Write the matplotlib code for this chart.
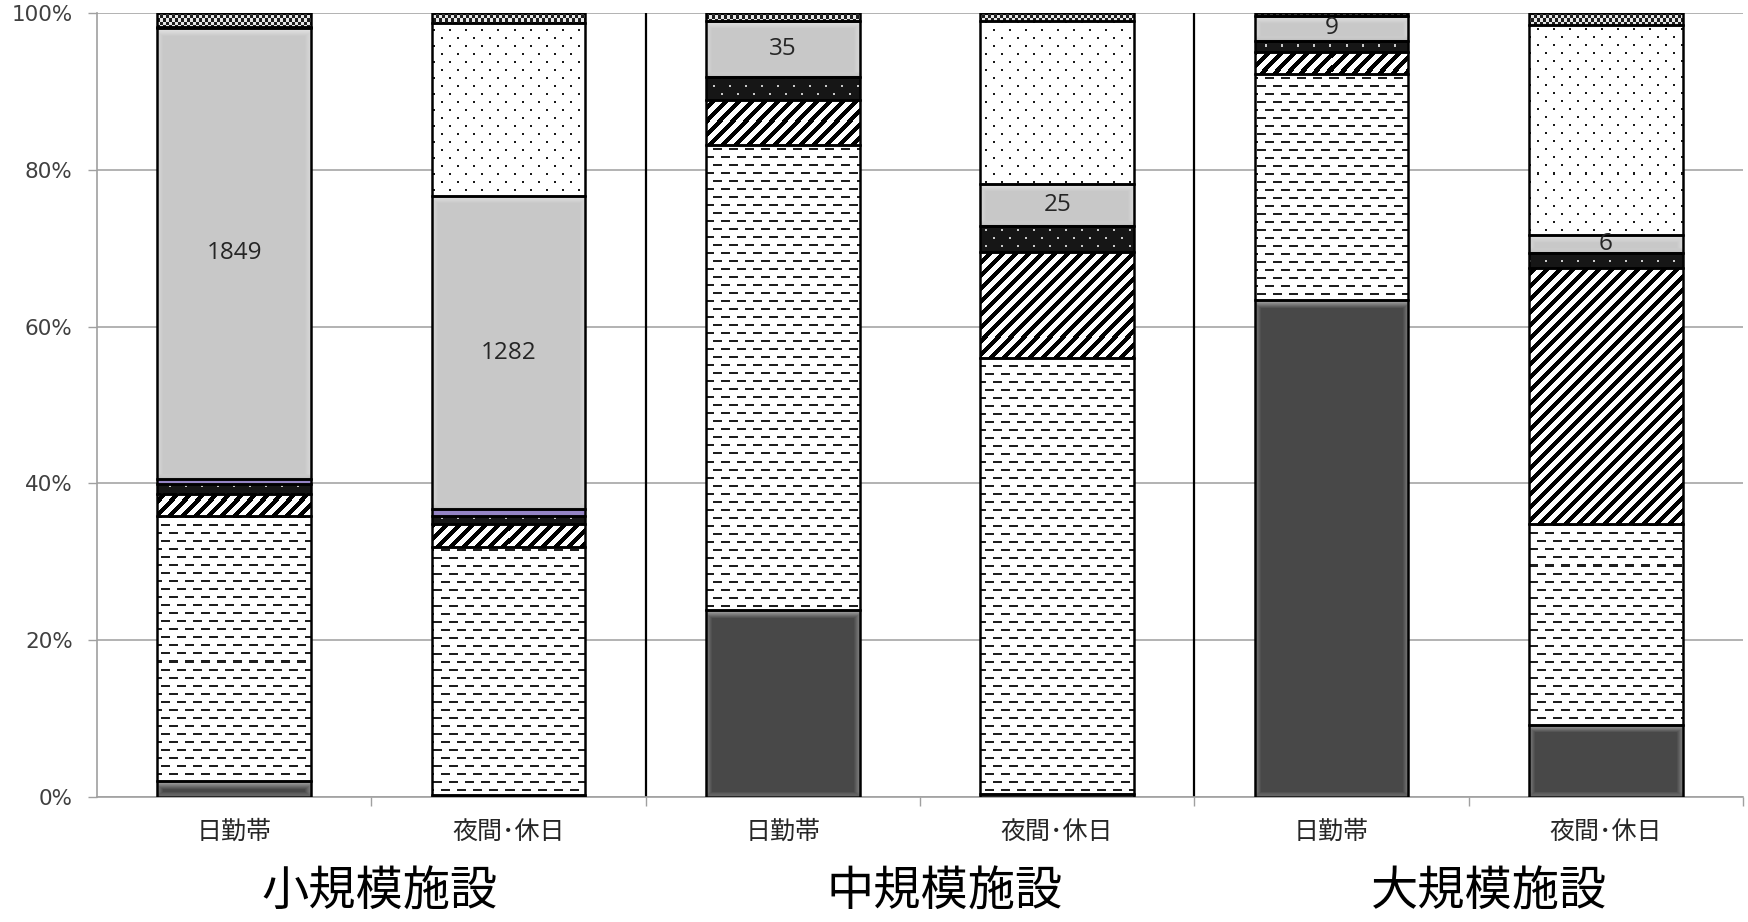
import numpy as np
import matplotlib.pyplot as plt
from matplotlib.colors import to_rgb
from matplotlib.ticker import PercentFormatter
from matplotlib.transforms import blended_transform_factory

plt.rcParams['font.family'] = ['Noto Sans CJK JP', 'DejaVu Sans']

# bars, left to right: each facility size split into day shift / night & holiday
categories = ['日勤帯', '夜間･休日', '日勤帯', '夜間･休日', '日勤帯', '夜間･休日']
groups = ['小規模施設', '中規模施設', '大規模施設']

# counts per stacked segment, bottom to top
seg_dark = [65, 10, 116, 2, 178, 24]
seg_dash = [1088, 1013, 289, 257, 81, 67]
seg_diag = [91, 93, 28, 63, 8, 85]
seg_darkdot = [38, 34, 14, 15, 4, 5]
seg_purple = [24, 26, 0, 0, 0, 0]
seg_gray = [1849, 1282, 35, 25, 9, 6]
seg_dot = [3, 705, 0, 96, 0, 70]
seg_check = [58, 42, 5, 5, 1, 4]

W, H = 1748, 922
fig = plt.figure(figsize=(W / 100, H / 100), dpi=100)
ax = fig.add_axes([97 / W, 1 - 797 / H, (1743 - 97) / W, (797 - 13) / H])
ax.set_xlim(-0.5, 5.5)
ax.set_ylim(0, 1)

# pixel textures covering the whole axes; each bar segment clips one of them
AW, AH = 1646, 784
yy, xx = np.mgrid[0:AH, 0:AW]
shift = (yy // 8 % 2) * 8


def texture(mask, fg, bg):
    img = np.empty((AH, AW, 3))
    img[:] = to_rgb(bg)
    img[mask] = to_rgb(fg)
    return img


tex_dash = texture((yy % 8 < 2) & ((xx + shift) % 16 < 9), '#1e1e1e', 'white')
tex_diag = texture((xx + yy) % 13 < 6, 'black', 'white')
tex_darkdot = texture((yy % 8 < 2) & ((xx + shift) % 16 < 2), '#c8c8c8', '#161616')
tex_dot = texture((yy % 8 < 2) & ((xx + shift) % 16 < 2), '#1a1a1a', 'white')
tex_check = texture(((xx // 3) + (yy // 3)) % 2 == 0, '#1e1e1e', '#e6e6e6')


def bevel(patch):
    # soft light edge along the top and sides of a solid segment
    x0, y0 = patch.get_x(), patch.get_y()
    x1, y1 = x0 + patch.get_width(), y0 + patch.get_height()
    (px0, py0), (px1, py1) = ax.transData.transform([(x0, y0), (x1, y1)])
    w, h = int(round(px1 - px0)), int(round(py1 - py0))
    if w < 2 or h < 2:
        return
    r, c = np.mgrid[0:h, 0:w]
    d_top = r
    d_side = np.minimum(c, w - 1 - c)
    d_bot = h - 1 - r
    alpha = np.clip(0.55 * (1 - d_top / 8), 0, None)
    alpha = np.maximum(alpha, np.clip(0.3 * (1 - d_side / 6), 0, None))
    img = np.zeros((h, w, 4))
    img[..., :3] = 1
    img[..., 3] = alpha
    shade = np.clip(0.35 * (1 - d_bot / 5), 0, None)
    img[..., :3] *= (1 - shade)[..., None]
    img[..., 3] = np.maximum(img[..., 3], shade)
    ax.imshow(img, extent=(x0, x1, y0, y1), aspect='auto',
              interpolation='bilinear', zorder=2.2)


layers = [
    (seg_dark, '#484848', None),
    (seg_dash, 'white', tex_dash),
    (seg_diag, 'white', tex_diag),
    (seg_darkdot, '#161616', tex_darkdot),
    (seg_purple, '#9484c4', None),
    (seg_gray, '#c8c8c8', None),
    (seg_dot, 'white', tex_dot),
    (seg_check, '#808080', tex_check),
]

x = np.arange(len(categories))
totals = np.sum([l[0] for l in layers], axis=0)
bottom = np.zeros(len(x))
width = 0.56

for vals, face, tex in layers:
    frac = np.array(vals) / totals
    bars = ax.bar(x, frac, width, bottom=bottom, color=face, linewidth=0, zorder=2)
    for b in bars:
        if b.get_height() <= 0:
            continue
        if tex is not None:
            im = ax.imshow(tex, extent=(-0.5, 5.5, 0, 1), aspect='auto',
                           interpolation='nearest', zorder=2.1)
            im.set_clip_path(b)
        elif face in ('#484848', '#c8c8c8'):
            bevel(b)
    ax.bar(x, frac, width, bottom=bottom, fill=False, edgecolor='black',
           linewidth=1.8, zorder=3)
    if vals is seg_gray:
        for xi, b, f, v in zip(x, bottom, frac, vals):
            ax.text(xi, b + f / 2, str(v), ha='center', va='center',
                    fontsize=17.5, color='#262626', family='Open Sans', zorder=4)
    bottom += frac

ax.set_xlim(-0.5, 5.5)
ax.set_ylim(0, 1)

# group separators
for sx in (1.5, 3.5):
    ax.axvline(sx, color='black', lw=1.6, zorder=1.5)

ax.set_axisbelow(True)
ax.yaxis.grid(True, color='#a6a6a6', lw=1.2)
ax.set_yticks(np.arange(0, 1.01, 0.2))
ax.yaxis.set_major_formatter(PercentFormatter(1, decimals=0))
ax.tick_params(axis='y', length=6.5, width=1, color='#a0a0a0', pad=11,
               labelsize=15.5, labelcolor='#404040')
for lbl in ax.get_yticklabels():
    lbl.set_family('DejaVu Sans')

ax.set_xticks(x)
ax.set_xticklabels(categories)
ax.tick_params(axis='x', length=0, pad=16, labelsize=18, labelcolor='#262626')
ax.set_xticks([0.5, 1.5, 2.5, 3.5, 4.5, 5.5], minor=True)
ax.tick_params(axis='x', which='minor', length=6.5, width=1, color='#a0a0a0')

for side in ('top', 'right'):
    ax.spines[side].set_visible(False)
for side in ('left', 'bottom'):
    ax.spines[side].set_color('#a0a0a0')
    ax.spines[side].set_linewidth(1.2)

trans = blended_transform_factory(ax.transData, ax.transAxes)
for gx, name in zip((0.53, 2.59, 4.575), groups):
    ax.text(gx, -0.121, name, transform=trans, ha='center', va='center',
            fontsize=34, color='black')

fig.savefig('out.png', dpi=100)
